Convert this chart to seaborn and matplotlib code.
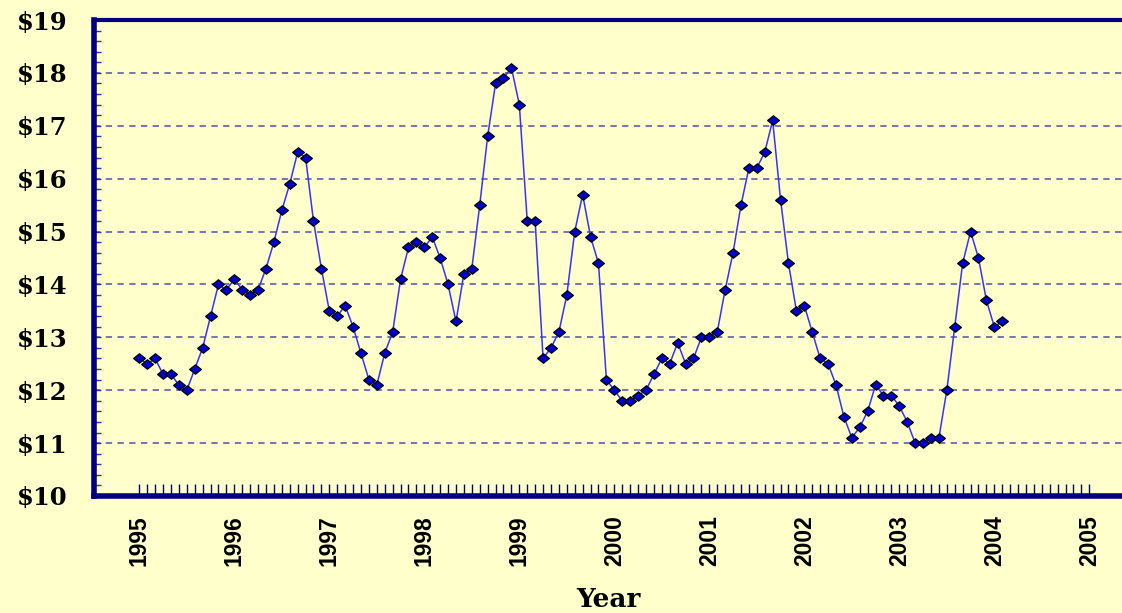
import numpy as np
import pandas as pd
import matplotlib
matplotlib.use("Agg")
import matplotlib.pyplot as plt
import matplotlib.ticker as mticker
import seaborn as sns

# ---------------- Data (monthly, Jan 1995 onwards) ----------------
start_year = 1995
prices = [
    12.6, 12.5, 12.6, 12.3, 12.3, 12.1, 12.0, 12.4, 12.8, 13.4, 14.0, 13.9,
    14.1, 13.9, 13.8, 13.9, 14.3, 14.8, 15.4, 15.9, 16.5, 16.4, 15.2, 14.3,
    13.5, 13.4, 13.6, 13.2, 12.7, 12.2, 12.1, 12.7, 13.1, 14.1, 14.7, 14.8,
    14.7, 14.9, 14.5, 14.0, 13.3, 14.2, 14.3, 15.5, 16.8, 17.8, 17.9, 18.1,
    17.4, 15.2, 15.2, 12.6, 12.8, 13.1, 13.8, 15.0, 15.7, 14.9, 14.4, 12.2,
    12.0, 11.8, 11.8, 11.9, 12.0, 12.3, 12.6, 12.5, 12.9, 12.5, 12.6, 13.0,
    13.0, 13.1, 13.9, 14.6, 15.5, 16.2, 16.2, 16.5, 17.1, 15.6, 14.4, 13.5,
    13.6, 13.1, 12.6, 12.5, 12.1, 11.5, 11.1, 11.3, 11.6, 12.1, 11.9, 11.9,
    11.7, 11.4, 11.0, 11.0, 11.1, 11.1, 12.0, 13.2, 14.4, 15.0, 14.5, 13.7,
    13.2, 13.3,
]
year_ticks = list(range(1995, 2006))
price_ticks = list(range(10, 20))
price_labels = [f"${p}" for p in price_ticks]

df = pd.DataFrame({
    "Year": start_year + np.arange(len(prices)) / 12,
    "Price": prices,
})

# ---------------- Style ----------------
BG = "#FFFFCC"
NAVY = "#000080"

sns.set_theme(style="white", rc={
    "figure.facecolor": BG,
    "axes.facecolor": BG,
    "savefig.facecolor": BG,
    "text.color": "black",
    "axes.labelcolor": "black",
    "xtick.labelcolor": "black",
    "ytick.labelcolor": "black",
})

fig = plt.figure(figsize=(11.22, 6.13), dpi=100)
ax = fig.add_axes([94 / 1122, 1 - 496 / 613, 1 - 94 / 1122, (496 - 20) / 613])

diamond = [(-1, 0), (0, 0.8), (1, 0), (0, -0.8), (-1, 0)]
sns.lineplot(data=df, x="Year", y="Price", ax=ax, errorbar=None,
             color="#3333FF", linewidth=1.1,
             marker=diamond, markersize=8.5,
             markerfacecolor="#0000CC", markeredgecolor="black",
             markeredgewidth=0.9, zorder=3)

ax.set_xlim(1994.523, 2005.344)
ax.set_ylim(10, 19)

# x axis: years labelled, monthly ticks inside
ax.xaxis.set_major_locator(mticker.FixedLocator(year_ticks))
ax.xaxis.set_minor_locator(mticker.FixedLocator(np.arange(1995, 2005.01, 1 / 12)))
ax.set_xticks(year_ticks)
ax.set_xticklabels([str(y) for y in year_ticks], rotation=90,
                   family="Liberation Sans", fontweight="bold", fontsize=16.5)
ax.tick_params(axis="x", which="both", direction="in", length=9, width=1,
               color=NAVY, labelcolor="black", bottom=True, pad=14)

# y axis: dollar labels, 0.2 minor ticks inside
ax.set_yticks(price_ticks)
ax.set_yticklabels(price_labels, family="DejaVu Serif", fontweight="bold",
                   fontsize=17.5)
ax.yaxis.set_minor_locator(mticker.MultipleLocator(0.2))
ax.tick_params(axis="y", which="both", direction="in", length=5, width=1,
               color="#333399", labelcolor="black", left=True, pad=19)

ax.yaxis.grid(True, linestyle=(0, (3.5, 3)), color="#6B6BAE", linewidth=1.3)
ax.xaxis.grid(False)

for side in ["left", "bottom"]:
    ax.spines[side].set_color(NAVY)
    ax.spines[side].set_linewidth(4)
ax.spines["top"].set_color(NAVY)
ax.spines["top"].set_linewidth(3)
ax.spines["right"].set_visible(False)

ax.set_ylabel("")
ax.set_xlabel("Year", family="DejaVu Serif", fontweight="bold", fontsize=19,
              color="black", labelpad=15)

fig.savefig("out.png", dpi=100)
